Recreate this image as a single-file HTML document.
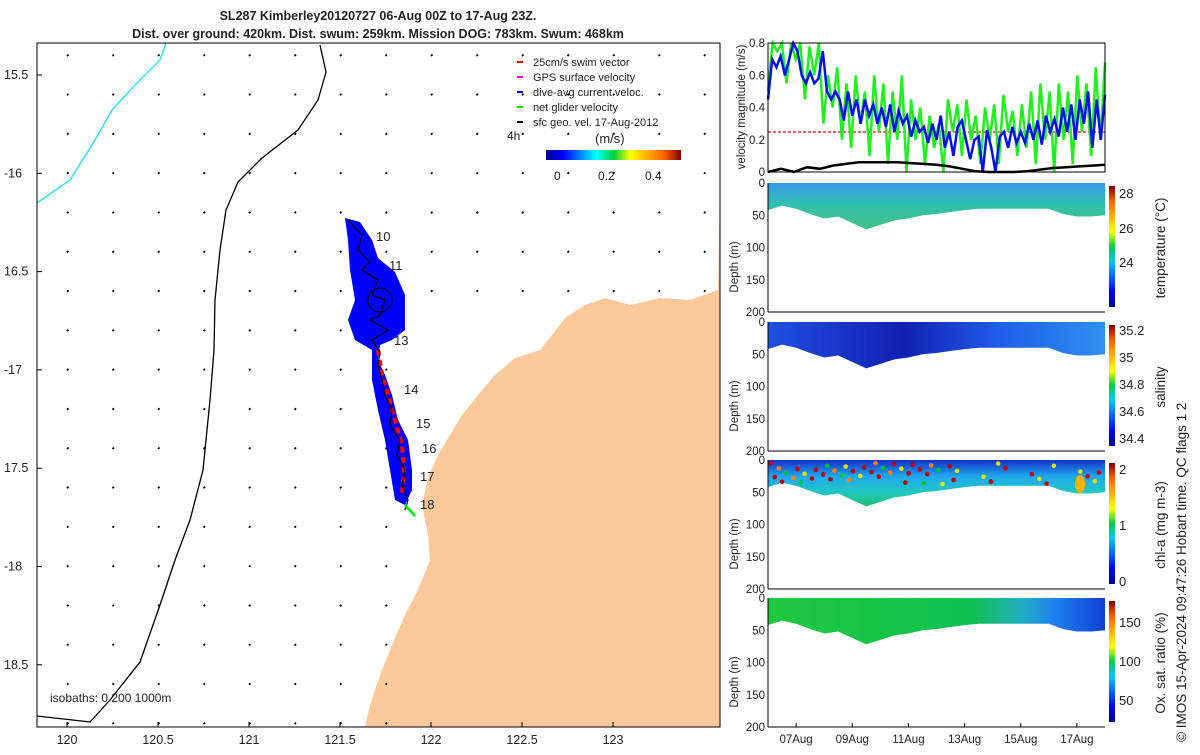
<!DOCTYPE html>
<html><head><meta charset="utf-8">
<style>
body{margin:0;background:#fff;font-family:"Liberation Sans",sans-serif;}
svg text{font-family:"Liberation Sans",sans-serif;fill:#222;}
</style></head>
<body>
<svg width="1200" height="750" viewBox="0 0 1200 750">
<defs>
<linearGradient id="jet" x1="0" x2="1" y1="0" y2="0">
<stop offset="0" stop-color="#00008f"/><stop offset="0.125" stop-color="#0000ff"/><stop offset="0.375" stop-color="#00ffff"/><stop offset="0.5" stop-color="#00d040"/><stop offset="0.625" stop-color="#ffff00"/><stop offset="0.875" stop-color="#ff6000"/><stop offset="1" stop-color="#800000"/></linearGradient>
<linearGradient id="jetv" x1="0" x2="0" y1="1" y2="0">
<stop offset="0" stop-color="#00008f"/><stop offset="0.125" stop-color="#0000ff"/><stop offset="0.375" stop-color="#00c8ff"/><stop offset="0.5" stop-color="#00d040"/><stop offset="0.625" stop-color="#ffff00"/><stop offset="0.875" stop-color="#ff6000"/><stop offset="1" stop-color="#800000"/></linearGradient>
<linearGradient id="gT" x1="0" x2="0" y1="0" y2="1"><stop offset="0" stop-color="#3898e8"/><stop offset="0.45" stop-color="#30c0b0"/><stop offset="1" stop-color="#40c080"/></linearGradient>
<linearGradient id="gS" x1="0" x2="1" y1="0" y2="0"><stop offset="0" stop-color="#2050e0"/><stop offset="0.4" stop-color="#1020b0"/><stop offset="0.7" stop-color="#2060e8"/><stop offset="1" stop-color="#3090f0"/></linearGradient>
<linearGradient id="gC" x1="0" x2="0" y1="0" y2="1"><stop offset="0" stop-color="#1030c8"/><stop offset="0.35" stop-color="#20a8f0"/><stop offset="0.7" stop-color="#20c8c0"/><stop offset="1" stop-color="#20c070"/></linearGradient>
<linearGradient id="gO" x1="0" x2="1" y1="0" y2="0"><stop offset="0" stop-color="#20c840"/><stop offset="0.6" stop-color="#10c050"/><stop offset="0.75" stop-color="#20b0c0"/><stop offset="0.85" stop-color="#2080f0"/><stop offset="1" stop-color="#1040d0"/></linearGradient>
</defs>

<text x="378" y="20" text-anchor="middle" font-size="12.5" font-weight="bold">SL287 Kimberley20120727 06-Aug 00Z to 17-Aug 23Z.</text>
<text x="378" y="38" text-anchor="middle" font-size="12.5" font-weight="bold">Dist. over ground: 420km. Dist. swum: 259km. Mission DOG: 783km. Swum: 468km</text>

<g>
<polygon fill="#fbc999" points="720,180 718,290 690,300 660,298 630,305 605,298 585,305 565,318 552,335 540,350 515,358 495,375 478,395 462,415 450,435 438,455 428,478 422,505 428,535 430,560 418,590 405,615 392,645 380,675 370,705 365,727 720,727"/>
<polyline fill="none" stroke="#000" stroke-width="1.3" points="37,716 90,722 110,700 140,662 160,605 175,560 190,520 203,470 210,400 214,350 215,300 220,250 226,210 238,182 262,158 298,130 318,100 326,72 320,45"/>
<polyline fill="none" stroke="#30e0ff" stroke-width="1.5" points="37,203 70,180 95,140 112,110 135,85 160,60 166,43"/>
<g id="vecs"></g>
<g>
<polygon fill="#0000ff" points="345,218 360,222 372,240 378,258 395,272 405,295 405,330 392,340 380,345 378,360 385,375 392,395 398,420 408,440 412,470 412,490 405,505 395,500 390,470 385,440 378,410 372,380 372,350 355,340 348,320 355,300 350,270 348,240"/>
<polyline fill="none" stroke="#ff0000" stroke-width="4" stroke-dasharray="6 4" points="378,350 382,375 388,395 395,420 402,445 404,470 402,495"/>
<polyline fill="none" stroke="#000" stroke-width="1.2" points="348,220 362,235 358,250 370,262 362,270 378,280 372,295 385,300 380,315 370,320 388,330 372,340 380,352 378,365 382,380 385,395 392,410 390,425 400,440 397,455 405,470 402,485 408,500 405,510"/>
<circle cx="380" cy="300" r="12" fill="none" stroke="#000"/>
<line x1="405" y1="505" x2="415" y2="516" stroke="#00ee00" stroke-width="2.5"/>
</g>
<g font-size="13">
<text x="376" y="241">10</text><text x="389" y="270">11</text><text x="394" y="345">13</text><text x="404" y="394">14</text><text x="416" y="428">15</text><text x="422" y="453">16</text><text x="420" y="481">17</text><text x="420" y="509">18</text></g>
<g font-size="11">
<line x1="517" y1="62" x2="523" y2="62" stroke="#f00" stroke-width="2"/><text x="533" y="66">25cm/s swim vector</text>
<line x1="517" y1="77" x2="523" y2="77" stroke="#f0f" stroke-width="2"/><text x="533" y="81">GPS surface velocity</text>
<line x1="517" y1="92" x2="523" y2="92" stroke="#00f" stroke-width="2"/><text x="533" y="96">dive-avg current veloc.</text>
<line x1="517" y1="107" x2="523" y2="107" stroke="#0e0" stroke-width="2"/><text x="533" y="111">net glider velocity</text>
<line x1="517" y1="122" x2="523" y2="122" stroke="#000" stroke-width="2"/><text x="533" y="126">sfc geo. vel. 17-Aug-2012</text>
<text x="507" y="140" font-size="12">4h</text>
<text x="595" y="143" font-size="13">(m/s)</text>
<rect x="546" y="150" width="135" height="10" fill="url(#jet)"/>
<text x="554" y="180" font-size="12">0</text><text x="598" y="180" font-size="12">0.2</text><text x="645" y="180" font-size="12">0.4</text>
</g>
<text x="50" y="702" font-size="12">isobaths: 0   200  1000m</text>
<rect x="37" y="43" width="683" height="684" fill="none" stroke="#000"/>
<g id="mapticks" font-size="12.5"></g>
</g>

<g>
<line x1="768" y1="132" x2="1105" y2="132" stroke="#ff6060" stroke-width="2" stroke-dasharray="3 2"/>
<polyline id="vGreen" fill="none" stroke="#20f020" stroke-width="2.5"/>
<polyline id="vBlue" fill="none" stroke="#0010f0" stroke-width="2.5"/>
<polyline id="vBlack" fill="none" stroke="#000" stroke-width="2.5"/>
<rect x="768" y="43" width="337" height="129" fill="none" stroke="#000"/>
<g id="vticks" font-size="11.5" text-anchor="end"></g>
<text transform="translate(745,107) rotate(-90)" text-anchor="middle" font-size="11.5">velocity magnitude (m/s)</text>
</g>

<g id="sections"></g>
<g id="xdates" font-size="11.5"></g>
<text transform="translate(1186,742) rotate(-90)" font-size="13.5">© IMOS 15-Apr-2024 09:47:26 Hobart time. QC flags 1  2</text>
</svg>
<script>
const NS='http://www.w3.org/2000/svg';
function mk(tag,attrs,parent){const e=document.createElementNS(NS,tag);for(const k in attrs)e.setAttribute(k,attrs[k]);parent.appendChild(e);return e;}
// ---- data ----
const lonTicks=[120,120.5,121,121.5,122,122.5,123];
const latTicks=[-15.5,-16,-16.5,-17,-17.5,-18,-18.5];
const latLabels=['15.5','-16','16.5','-17','17.5','-18','18.5'];
const velTicks=[0,0.2,0.4,0.6,0.8];
const blueVel=[0.45,0.7,0.65,0.72,0.6,0.7,0.8,0.75,0.6,0.55,0.62,0.55,0.58,0.75,0.5,0.45,0.5,0.45,0.32,0.5,0.35,0.45,0.3,0.45,0.35,0.42,0.3,0.4,0.28,0.42,0.25,0.38,0.3,0.35,0.22,0.32,0.25,0.28,0.18,0.3,0.2,0.35,0.15,0.25,0.1,0.28,0.32,0.2,0.08,0.2,0.22,0.0,0.26,0.15,0.0,0.22,0.25,0.15,0.28,0.18,0.25,0.18,0.3,0.2,0.32,0.17,0.35,0.25,0.33,0.22,0.4,0.25,0.42,0.2,0.45,0.3,0.5,0.15,0.45,0.2,0.48];
const greenVel=[0.5,0.8,0.75,0.8,0.55,0.8,0.7,0.8,0.45,0.78,0.6,0.8,0.3,0.6,0.4,0.65,0.2,0.55,0.15,0.6,0.3,0.5,0.1,0.6,0.25,0.55,0.05,0.5,0.2,0.6,0.0,0.45,0.2,0.4,0.05,0.35,0.15,0.3,0.0,0.45,0.25,0.42,0.1,0.45,0.2,0.35,0.05,0.4,0.2,0.42,0.05,0.48,0.25,0.38,0.1,0.42,0.15,0.5,0.05,0.55,0.2,0.5,0.0,0.55,0.2,0.5,0.05,0.6,0.25,0.55,0.1,0.65,0.2,0.68];
const blackVel=[0,0.02,0.0,0.03,0.02,0.04,0.05,0.06,0.06,0.06,0.06,0.055,0.05,0.045,0.035,0.02,0.005,0.0,0.0,0.0,0.005,0.015,0.025,0.03,0.035,0.04,0.045];
const bottomDays=[6,6.5,7,7.5,8,8.5,9,9.5,10,10.5,11,11.5,12,12.5,13,13.5,14,14.5,15,15.5,16,16.5,17,17.5,18];
const bottomDepth=[42,35,40,48,55,52,62,72,65,58,55,50,48,45,42,40,40,40,40,40,40,48,52,52,50];
const dateDays=[7,9,11,13,15,17];
const dateLabels=['07Aug','09Aug','11Aug','13Aug','15Aug','17Aug'];
// ---- axes ----
const lonX=v=>67+(v-120)*182, latY=v=>75+(-15.5-v)*196.6;
const dayX=d=>768+(d-6)*(337/12);
const velY=v=>172-v*161;
const mt=document.getElementById('mapticks');
lonTicks.forEach(v=>{const t=mk('text',{x:lonX(v),y:744,'text-anchor':'middle'},mt);t.textContent=String(v);
 mk('line',{x1:lonX(v),x2:lonX(v),y1:727,y2:722,stroke:'#000'},mt);});
latTicks.forEach((v,i)=>{const t=mk('text',{x:4,y:latY(v)+4},mt);t.textContent=latLabels[i];
 mk('line',{x1:37,x2:42,y1:latY(v),y2:latY(v),stroke:'#000'},mt);});
const vt=document.getElementById('vticks');
velTicks.forEach(v=>{const t=mk('text',{x:765,y:velY(v)+4},vt);t.textContent=String(v);});
// vectors
const vg=document.getElementById('vecs');
for(let i=0;i<15;i++)for(let j=0;j<18;j++){const x=67+i*45.5,y=56+j*39.3;
 if(x>420&&y>300)continue;
 const l=mk('line',{x1:x,y1:y,x2:x+1.5,y2:y-1.5,stroke:'#000','stroke-width':1.8},vg);
 
 }
// velocity lines
function series(arr,id){const n=arr.length;document.getElementById(id).setAttribute('points',arr.map((v,i)=>dayX(6+12*i/(n-1)).toFixed(1)+','+velY(v).toFixed(1)).join(' '));}
series(greenVel,'vGreen');series(blueVel,'vBlue');series(blackVel,'vBlack');
// sections
const panels=[
 {top:183,fill:'url(#gT)',ticks:[['28',193],['26',228],['24',262]],title:'temperature (°C)',name:'temperature'},
 {top:322,fill:'url(#gS)',ticks:[['35.2',330],['35',357],['34.8',384],['34.6',411],['34.4',438]],title:'salinity',name:'salinity'},
 {top:460,fill:'url(#gC)',ticks:[['2',469],['1',525],['0',581]],title:'chl-a (mg m-3)',name:'chl-a'},
 {top:598,fill:'url(#gO)',ticks:[['150',622],['100',661],['50',700]],title:'Ox. sat. ratio (%)',name:'oxygen'}];
const sg=document.getElementById('sections');
panels.forEach(p=>{const g=mk('g',{},sg);
 
 
 const h=129,dY=d=>p.top+d/200*h;
 const pts=[dayX(6)+','+p.top].concat(bottomDays.map((d,i)=>dayX(d).toFixed(1)+','+dY(bottomDepth[i]).toFixed(1))).concat([dayX(18)+','+p.top]);
 mk('polygon',{points:pts.join(' '),fill:p.fill},g);
 mk('line',{x1:768,x2:1105,y1:p.top+h,y2:p.top+h,stroke:'#000'},g);
 mk('line',{x1:768,x2:768,y1:p.top,y2:p.top+h,stroke:'#000'},g);
 [0,50,100,150,200].forEach(d=>{const t=mk('text',{x:765,y:dY(d)+4,'text-anchor':'end','font-size':11.5},g);t.textContent=d;});
 const yt=mk('text',{transform:`translate(738,${p.top+84}) rotate(-90)`,'text-anchor':'middle','font-size':11.5},g);yt.textContent='Depth (m)';
 mk('rect',{x:1109,y:p.top+3,width:6,height:h-8,fill:'url(#jetv)'},g);
 p.ticks.forEach(t=>{const e=mk('text',{x:1119,y:t[1]+5,'font-size':13},g);e.textContent=t[0];});
 const ct=mk('text',{transform:`translate(1165,${p.top+65}) rotate(-90)`,'text-anchor':'middle','font-size':13.5},g);ct.textContent=p.title;
});
// chl dots
const cg=sg.children[2];
const dotCols=['#c00000','#c00000','#ff8000','#e0e000','#c00000','#00c040'];
for(let k=0;k<70;k++){const d=6.1+((k*0.618)%1)*11.8,dep=5+((k*0.371)%1)*35;
 if(d>12.8&&d<16.8&&k%3)continue;
 const c=mk('circle',{cx:dayX(d),cy:460+dep/200*129,r:2.3,fill:dotCols[k%6]},cg);
 
 }
mk('ellipse',{cx:1080,cy:484,rx:5,ry:9,fill:'#ffb000'},cg);
// dates
const xd=document.getElementById('xdates');
dateDays.forEach((d,i)=>{const t=mk('text',{x:dayX(d),y:743,'text-anchor':'middle'},xd);t.textContent=dateLabels[i];
 mk('line',{x1:dayX(d),x2:dayX(d),y1:727,y2:723,stroke:'#000'},xd);});
</script>
</body></html>
